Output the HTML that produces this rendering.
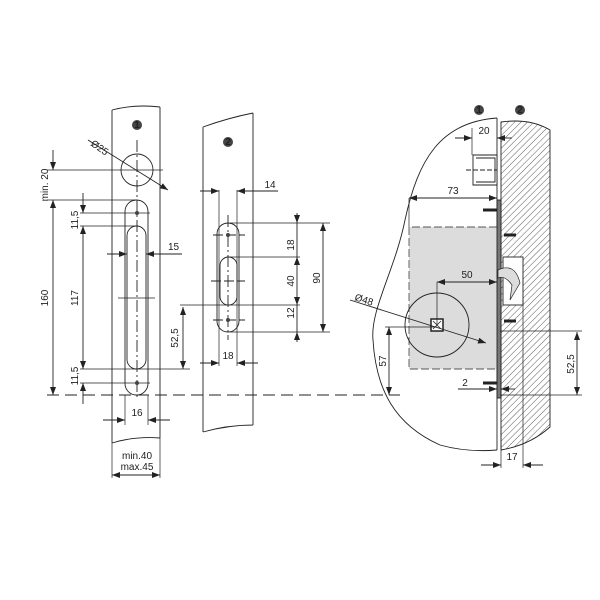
<!DOCTYPE html>
<html><head><meta charset="utf-8"><style>body{margin:0;background:#fff}svg{display:block}text{font-family:"Liberation Sans",sans-serif;font-size:10px;fill:#222}</style></head><body>
<svg width="600" height="600" viewBox="0 0 600 600" xmlns="http://www.w3.org/2000/svg">
<defs>
<pattern id="h" width="4.5" height="4.5" patternUnits="userSpaceOnUse" patternTransform="rotate(45)"><line x1="0" y1="0" x2="0" y2="4.5" stroke="#333" stroke-width="0.8"/></pattern>
<marker id="a" markerWidth="8" markerHeight="6" refX="8" refY="3" orient="auto-start-reverse" markerUnits="userSpaceOnUse"><path d="M0,0 L8,3 L0,6z" fill="#222"/></marker>
</defs>
<g fill="none" stroke="#222" stroke-width="0.9">
<path d="M112,110 Q135,104 160,107 M112,110 V443 M160,107 V438 M112,443 Q135,436 160,438"/>
<circle cx="137" cy="170" r="16"/>
<rect x="125" y="200" width="23" height="195" rx="11.5"/>
<rect x="127" y="226" width="19" height="143" rx="9.5"/>
<path d="M137,140 V398" stroke-dasharray="12,3,2,3"/>
<path d="M47,170 H163 M47,200 H137 M80,213 H150 M80,226 H137 M80,369 H190 M80,383 H150 M118,298 H155" stroke-width="0.7"/>
<line x1="53" y1="150" x2="53" y2="170" marker-end="url(#a)"/>
<line x1="53" y1="200" x2="53" y2="395" marker-start="url(#a)" marker-end="url(#a)"/>
<line x1="83" y1="193" x2="83" y2="213" marker-end="url(#a)"/>
<line x1="83" y1="226" x2="83" y2="369" marker-start="url(#a)" marker-end="url(#a)"/>
<line x1="83" y1="383" x2="83" y2="404" marker-start="url(#a)"/>
<line x1="107" y1="254" x2="127" y2="254" marker-end="url(#a)"/>
<line x1="146" y1="254" x2="182" y2="254" marker-start="url(#a)"/>
<line x1="183" y1="307" x2="183" y2="369" marker-start="url(#a)" marker-end="url(#a)"/>
<line x1="103" y1="420" x2="125" y2="420" marker-end="url(#a)"/>
<line x1="148" y1="420" x2="170" y2="420" marker-start="url(#a)"/>
<path d="M125,395 V425 M148,395 V425 M112,443 V478 M160,438 V478" stroke-width="0.7"/>
<line x1="112" y1="475" x2="160" y2="475" marker-start="url(#a)" marker-end="url(#a)"/>
<line x1="88" y1="140" x2="168" y2="190" marker-end="url(#a)"/>
<path d="M47,395 H400" stroke-dasharray="12,6"/>
<path d="M203,127 Q228,118 253,113 M203,127 V432 M253,113 V425 M203,432 Q228,425 253,425"/>
<rect x="217" y="223" width="22" height="109" rx="11"/>
<rect x="220" y="257" width="17" height="48" rx="8.5"/>
<path d="M228,215 V340" stroke-dasharray="12,3,2,3"/>
<path d="M213,235 H245 M213,320 H245 M211,281 H245" stroke-dasharray="10,3"/>
<path d="M219,190 V366 M237,190 V366 M230,223 H330 M230,257 H300 M180,305 H300 M230,332 H330" stroke-width="0.7"/>
<line x1="200" y1="191" x2="219" y2="191" marker-end="url(#a)"/>
<line x1="237" y1="191" x2="278" y2="191" marker-start="url(#a)"/>
<line x1="297" y1="213" x2="297" y2="223" marker-end="url(#a)"/>
<line x1="297" y1="257" x2="297" y2="305" marker-start="url(#a)" marker-end="url(#a)"/>
<line x1="297" y1="332" x2="297" y2="342" marker-start="url(#a)"/>
<path d="M297,223 V257 M297,305 V332"/>
<line x1="323" y1="223" x2="323" y2="332" marker-start="url(#a)" marker-end="url(#a)"/>
<line x1="200" y1="363" x2="219" y2="363" marker-end="url(#a)"/>
<line x1="237" y1="363" x2="258" y2="363" marker-start="url(#a)"/>
<path d="M497,118 C440,122 418,160 405,220 C395,270 370,310 373,340 C376,390 395,425 440,445 C465,452 485,451 497,450"/>
<path d="M501,122 Q530,118 550,130 V427 Q530,445 501,450 Z" fill="url(#h)"/>
<line x1="497" y1="118" x2="497" y2="450"/>
<rect x="409" y="227" width="88" height="142" fill="#dcdcdc" stroke="none"/>
<path d="M497,227 H409 V369 H497" stroke-dasharray="8,3" stroke="#555"/>
<rect x="497" y="200" width="4" height="198" fill="#777"/>
<circle cx="437" cy="325" r="32"/>
<rect x="431" y="319" width="12" height="12" fill="#fff" stroke-width="1.5"/>
<path d="M433,321 L441,329 M441,321 L433,329" stroke-width="0.8"/>
<path d="M473,155 H497 V185 H473 Z M476,158 H495 V182 H476" fill="#fff"/>
<path d="M466,170 H497" stroke-dasharray="5,2"/>
<rect x="503" y="257" width="20" height="48" fill="#fff"/>
<path d="M498,270 Q515,262 520,283 L510,300 L512,285 Q505,275 498,278Z" fill="#ddd" stroke-width="0.7"/>
<path d="M483,210 H497 M504,235 H516 M504,321 H516 M483,383 H497" stroke-width="3"/>
<path d="M409,198 V227 M472,128 V155 M437,282 V325 M385,327 H437 M500,331 H582 M500,395 H582 M501,430 V468 M523,300 V468" stroke-width="0.7"/>
<line x1="409" y1="198" x2="497" y2="198" marker-start="url(#a)" marker-end="url(#a)"/>
<line x1="455" y1="138" x2="472" y2="138" marker-end="url(#a)"/>
<line x1="497" y1="138" x2="512" y2="138" marker-start="url(#a)"/>
<line x1="437" y1="282" x2="497" y2="282" marker-start="url(#a)" marker-end="url(#a)"/>
<line x1="350" y1="300" x2="486" y2="343" marker-end="url(#a)"/>
<line x1="389" y1="327" x2="389" y2="395" marker-start="url(#a)" marker-end="url(#a)"/>
<line x1="577" y1="332" x2="577" y2="395" marker-start="url(#a)" marker-end="url(#a)"/>
<line x1="458" y1="389" x2="497" y2="389" marker-end="url(#a)"/>
<line x1="501" y1="389" x2="515" y2="389" marker-start="url(#a)"/>
<line x1="481" y1="465" x2="501" y2="465" marker-end="url(#a)"/>
<line x1="523" y1="465" x2="543" y2="465" marker-start="url(#a)"/>
</g>
<g fill="#444"><circle cx="137" cy="125" r="5"/><circle cx="228" cy="142" r="5"/><circle cx="479" cy="110" r="5"/><circle cx="520" cy="110" r="5"/><circle cx="137" cy="213" r="2"/><circle cx="137" cy="383" r="2"/><circle cx="228" cy="235" r="2"/><circle cx="228" cy="320" r="2"/></g>
<g style="font-size:7px;font-weight:bold" text-anchor="middle"><text x="137" y="128" fill="#fff">1</text><text x="228" y="145" fill="#fff">2</text><text x="479" y="113" fill="#fff">1</text><text x="520" y="113" fill="#fff">2</text></g>
<text x="90" y="145" transform="rotate(35 90 145)">Ø25</text>
<text transform="translate(48,185) rotate(-90)" text-anchor="middle">min. 20</text>
<text transform="translate(48,298) rotate(-90)" text-anchor="middle">160</text>
<text transform="translate(78,220) rotate(-90)" text-anchor="middle">11,5</text>
<text transform="translate(78,298) rotate(-90)" text-anchor="middle">117</text>
<text transform="translate(78,376) rotate(-90)" text-anchor="middle">11,5</text>
<text x="168" y="250">15</text>
<text transform="translate(178,338) rotate(-90)" text-anchor="middle">52,5</text>
<text x="137" y="416" text-anchor="middle">16</text>
<text x="137" y="459" text-anchor="middle">min.40</text>
<text x="137" y="470" text-anchor="middle">max.45</text>
<text x="270" y="188" text-anchor="middle">14</text>
<text transform="translate(294,245) rotate(-90)" text-anchor="middle">18</text>
<text transform="translate(294,281) rotate(-90)" text-anchor="middle">40</text>
<text transform="translate(294,313) rotate(-90)" text-anchor="middle">12</text>
<text transform="translate(320,278) rotate(-90)" text-anchor="middle">90</text>
<text x="228" y="359" text-anchor="middle">18</text>
<text x="484" y="134" text-anchor="middle">20</text>
<text x="453" y="194" text-anchor="middle">73</text>
<text x="467" y="278" text-anchor="middle">50</text>
<text x="354" y="300" transform="rotate(18 354 300)">Ø48</text>
<text transform="translate(386,361) rotate(-90)" text-anchor="middle">57</text>
<text transform="translate(574,364) rotate(-90)" text-anchor="middle">52,5</text>
<text x="465" y="386" text-anchor="middle">2</text>
<text x="512" y="460" text-anchor="middle">17</text>
</svg>
</body></html>
